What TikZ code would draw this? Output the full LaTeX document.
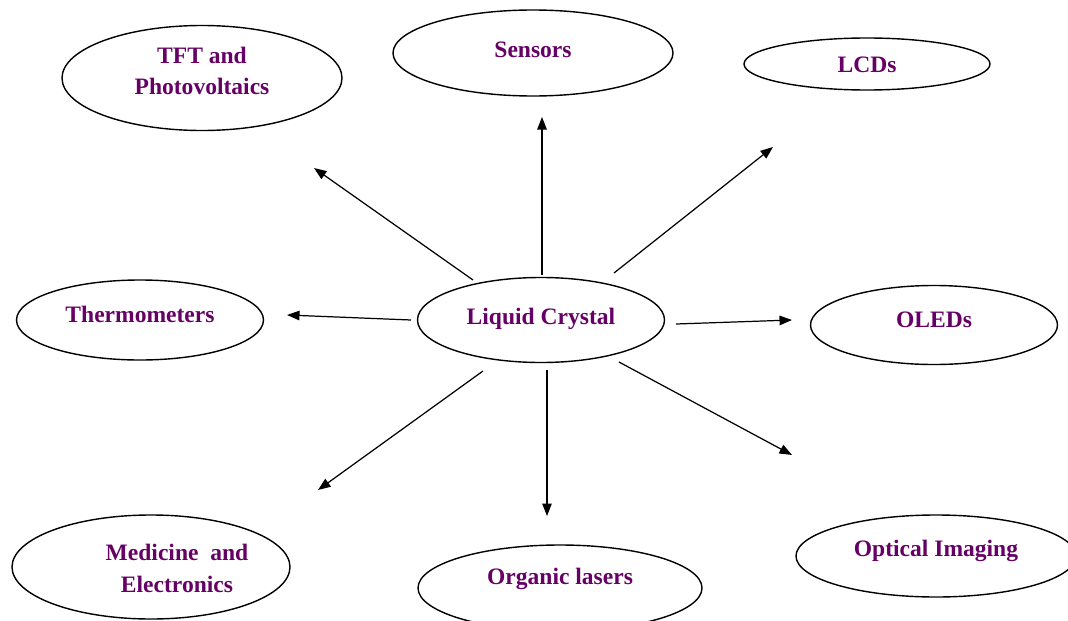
\documentclass[tikz,border=0pt]{standalone}
\usepackage{fontspec}
\setmainfont{Liberation Serif}
\usetikzlibrary{shapes.geometric,arrows.meta}
\definecolor{lctext}{HTML}{660066}
\tikzset{
  app/.style={ellipse,draw,line width=0.8pt,inner sep=0pt},
  lbl/.style={text=lctext,font=\fontsize{13.4}{18}\selectfont\bfseries,align=center},
  arr/.style={-{Triangle[length=2.5mm,width=1.9mm]},line width=0.7pt}
}
\begin{document}
\begin{tikzpicture}
        \useasboundingbox (0,0) rectangle (21.36,12.4);
        % centre
        \node[app,minimum width=4.94cm,minimum height=1.7cm,label={[lbl,yshift=0.02cm]center:Liquid Crystal}] (lc) at (10.82,6.0) {};
        % applications
        \node[app,minimum width=5.6cm,minimum height=2.1cm,label={[lbl,yshift=0.14cm]center:TFT and\\Photovoltaics}] (tft) at (4.04,10.84) {};
        \node[app,minimum width=5.6cm,minimum height=1.72cm,label={[lbl,yshift=0.07cm]center:Sensors}] (sens) at (10.66,11.34) {};
        \node[app,minimum width=4.92cm,minimum height=1.04cm,label={[lbl,yshift=-0.02cm]center:LCDs}] (lcd) at (17.34,11.12) {};
        \node[app,minimum width=4.94cm,minimum height=1.6cm,label={[lbl,yshift=0.11cm]center:Thermometers}] (therm) at (2.8,6.0) {};
        \node[app,minimum width=4.94cm,minimum height=1.58cm,label={[lbl,yshift=0.11cm]center:OLEDs}] (oled) at (18.68,5.9) {};
        \node[app,minimum width=5.56cm,minimum height=2.08cm,label={[lbl,xshift=0.52cm,yshift=-0.03cm]center:Medicine\ \ and\\Electronics}] (med) at (3.02,1.06) {};
        \node[app,minimum width=5.68cm,minimum height=1.72cm,label={[lbl,yshift=0.19cm]center:Organic lasers}] (org) at (11.2,0.64) {};
        \node[app,minimum width=5.6cm,minimum height=1.64cm,label={[lbl,yshift=0.11cm]center:Optical Imaging}] (opt) at (18.72,1.28) {};
        % arrow ends
        \coordinate (s1) at (9.46,6.8);   \coordinate (e1) at (6.28,9.04);
        \coordinate (s2) at (10.84,6.9);  \coordinate (e2) at (10.84,10.06);
        \coordinate (s3) at (12.28,6.94); \coordinate (e3) at (15.46,9.46);
        \coordinate (s4) at (8.22,6.0);   \coordinate (e4) at (5.74,6.1);
        \coordinate (s5) at (13.52,5.92); \coordinate (e5) at (15.84,6.0);
        \coordinate (s6) at (9.66,4.98);  \coordinate (e6) at (6.36,2.6);
        \coordinate (s7) at (10.94,5.0);  \coordinate (e7) at (10.94,2.08);
        \coordinate (s8) at (12.38,5.16); \coordinate (e8) at (15.84,3.3);
        \draw[arr] (s1) -- (e1);
        \draw[arr] (s2) -- (e2);
        \draw[arr] (s3) -- (e3);
        \draw[arr] (s4) -- (e4);
        \draw[arr] (s5) -- (e5);
        \draw[arr] (s6) -- (e6);
        \draw[arr] (s7) -- (e7);
        \draw[arr] (s8) -- (e8);
\end{tikzpicture}
\end{document}
